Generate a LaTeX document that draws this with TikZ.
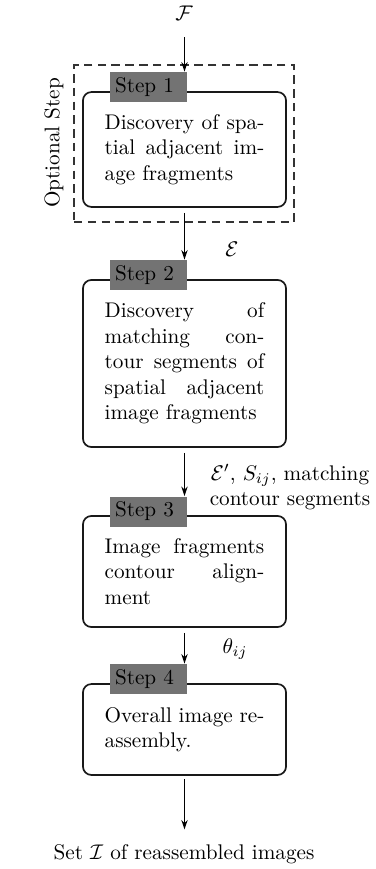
\documentclass[tikz,border=0pt]{standalone}
\usetikzlibrary{arrows.meta,calc}
\begin{document}
\begin{tikzpicture}[x=0.4717pt,y=-0.4717pt,
  box/.style={draw=black!90, thick, rounded corners=4pt, minimum width=95.8pt,
    text width=75.3pt, align=justify, inner sep=0pt},
  steplab/.style={fill=black!55, draw=none, text width=31.6pt, inner xsep=2.36pt,
    inner ysep=0pt, minimum height=14.15pt, align=left},
  arr/.style={-{Stealth[length=4.5pt,width=3pt]}, semithick},
  optbox/.style={draw=black!80, thick, dash pattern=on 4pt off 2.5pt,
    minimum width=103.8pt, minimum height=74.1pt, inner sep=0pt},
]
\useasboundingbox (0,0) rectangle (376,869);

% optional-step frame
\node[optbox] (opt) at (184,143.5) {};
\node[rotate=90] (optlab) at (54,143) {Optional Step};

% boxes
\node[box, minimum height=54.2pt] (b1) at (184.5,149.5)
  {Discovery of spa-\linebreak tial adjacent im-\linebreak age fragments};
\node[box, minimum height=78.8pt] (b2) at (184.5,363.5)
  {Discovery of\linebreak matching con-\linebreak tour segments of\linebreak spatial adjacent\linebreak image fragments};
\node[box, minimum height=52.4pt] (b3) at (184.5,571.5)
  {Image fragments\linebreak contour align-\linebreak ment};
\node[box, minimum height=42.9pt] (b4) at (184.5,729.5)
  {Overall image re-\linebreak assembly.};

% step labels
\node[steplab] (s1) at (148.5,87) {Step 1};
\node[steplab] (s2) at (148.5,275) {Step 2};
\node[steplab] (s3) at (148.5,511.5) {Step 3};
\node[steplab] (s4) at (148.5,679) {Step 4};

% input / output / edge labels
\node (F) at (184,13) {$\mathcal{F}$};
\node (E) at (232,249) {$\mathcal{E}$};
\node[align=center] (Sij) at (290,487) {$\mathcal{E}'$, $S_{ij}$, matching\\contour segments};
\node (th) at (235,649) {$\theta_{ij}$};
\node (out) at (184,854) {Set $\mathcal{I}$ of reassembled images};

% connectors
\draw[arr, shorten <=4.6pt] (b1.north |- F.south) -- (b1.north |- s1.north);
\draw[arr, shorten <=2.4pt] (b1.south) -- (b1.south |- s2.north);
\draw[arr, shorten <=2.4pt] (b2.south) -- (b2.south |- s3.north);
\draw[arr, shorten <=2.4pt] (b3.south) -- (b3.south |- s4.north);
\draw[arr, shorten <=1.5pt, shorten >=3.5pt] (b4.south) -- (b4.south |- out.north);
\end{tikzpicture}
\end{document}
